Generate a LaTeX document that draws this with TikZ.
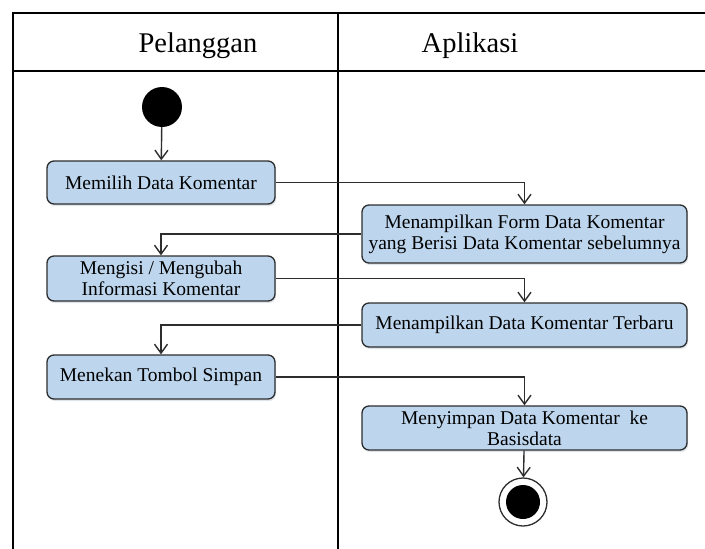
\documentclass[tikz,border=0pt]{standalone}
\usepackage{fontspec}
\setmainfont{Liberation Serif}
\definecolor{actblue}{RGB}{189,214,238}
\definecolor{linegray}{RGB}{45,45,45}
\usetikzlibrary{arrows.meta, positioning, calc, shadows}

\begin{document}
\begin{tikzpicture}[
    x=1pt, y=-1pt,
    act/.style={draw=linegray, fill=actblue, rounded corners=7pt, line width=1.3pt, align=center,
                inner sep=0pt, font=\fontsize{19.5}{21}\selectfont,
                drop shadow={shadow xshift=1pt, shadow yshift=-2pt, fill=actblue!60!gray, opacity=0.35}},
    lane/.style={line width=2.6pt, black},
    flow/.style={->, line width=1.4pt, linegray},
    >={Straight Barb[length=9pt, width=13pt]}
]
  \useasboundingbox (0,0) rectangle (705,549);

  % swimlanes
  \draw[lane] (13,13) -- (705,13);
  \draw[lane] (13,71) -- (705,71);
  \draw[lane] (13,12) -- (13,549);
  \draw[lane] (338,12) -- (338,549);
  \node[anchor=base, font=\fontsize{28.5}{30}\selectfont] (H1) at (198,52) {Pelanggan};
  \node[anchor=base, font=\fontsize{28.5}{30}\selectfont] (H2) at (470,52) {Aplikasi};

  % start and end
  \node[circle, fill=black, minimum size=40pt, inner sep=0pt] (S) at (162,107) {};
  \node[circle, draw=linegray, line width=1.3pt, fill=white, minimum size=48pt, inner sep=0pt] (E) at (523,502) {};
  \node[circle, fill=black, minimum size=34pt, inner sep=0pt] (Ein) at (523,502) {};

  % actions
  \node[act, minimum width=228pt, minimum height=43pt] (P1) at (161,182.5) {Memilih Data Komentar};
  \node[act, minimum width=325pt, minimum height=58pt] (A1) at (524.5,234) {Menampilkan Form Data Komentar\\yang Berisi Data Komentar sebelumnya};
  \node[act, minimum width=228pt, minimum height=45pt] (P2) at (161,278.5) {Mengisi / Mengubah\\Informasi Komentar};
  \node[act, minimum width=325pt, minimum height=44pt] (A2) at (524.5,325) {Menampilkan Data Komentar Terbaru};
  \node[act, minimum width=228pt, minimum height=44pt] (P3) at (161,377) {Menekan Tombol Simpan};
  \node[act, minimum width=325pt, minimum height=44pt] (A3) at (524.5,428) {Menyimpan Data Komentar\ \ ke\\Basisdata};

  \draw[flow] (S) -- (P1);
  \draw[flow] (P1.east) -| (A1.north);
  \draw[flow] (A1.west) -| (P2.north);
  \draw[flow] (P2.east) -| (A2.north);
  \draw[flow] (A2.west) -| (P3.north);
  \draw[flow] (P3.east) -| (A3.north);
  \draw[flow] (A3) -- (E);
\end{tikzpicture}
\end{document}
